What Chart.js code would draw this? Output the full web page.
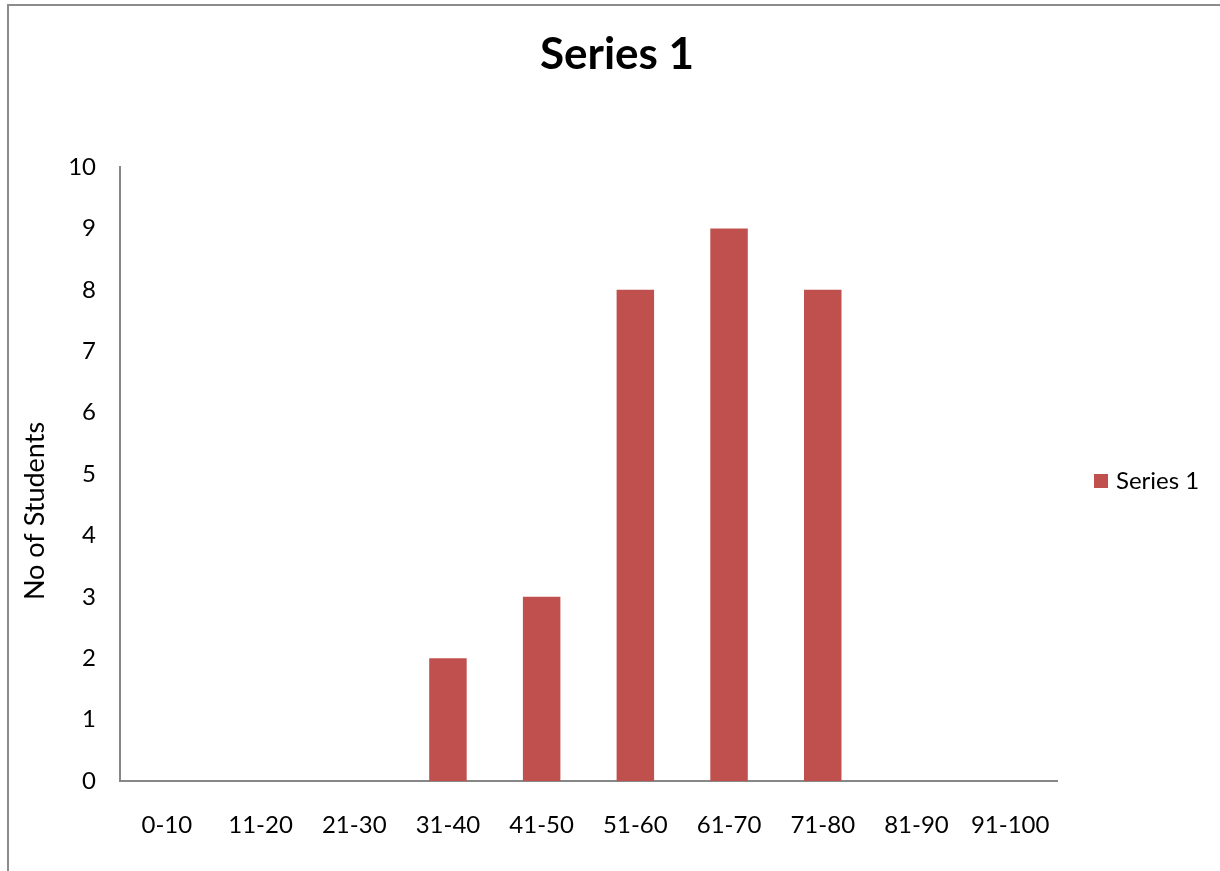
<!DOCTYPE html>
<html>
<head>
<meta charset="utf-8">
<script src="https://cdn.jsdelivr.net/npm/chart.js@4"></script>
<style>
  html, body { margin: 0; padding: 0; background: #ffffff; }
  #wrap { width: 1220px; height: 871px; position: relative; }
</style>
</head>
<body>
<div id="wrap"><canvas id="chart" width="1220" height="871"></canvas></div>
<script>
// Score bands and number of students in each band
const categories = ['0-10', '11-20', '21-30', '31-40', '41-50', '51-60', '61-70', '71-80', '81-90', '91-100'];
const studentCounts = [0, 0, 0, 2, 3, 8, 9, 8, 0, 0];
const seriesName = 'Series 1';
const chartTitle = 'Series 1';
const yAxisTitle = 'No of Students';
const yMin = 0;
const yMax = 10;
const yStep = 1;

const FONT = 'Lato, "Open Sans", sans-serif';
const BAR_COLOR = '#C0504D';
const AXIS_COLOR = '#878787';

// Frame, title, axis title and legend drawn around the plot
const decorations = {
  id: 'decorations',
  beforeDraw(chart) {
    const ctx = chart.ctx;
    ctx.save();
    ctx.fillStyle = '#ffffff';
    ctx.fillRect(0, 0, chart.width, chart.height);
    ctx.strokeStyle = '#8c8c8c';
    ctx.lineWidth = 2;
    ctx.beginPath();
    ctx.moveTo(8, chart.height);
    ctx.lineTo(8, 5);
    ctx.lineTo(chart.width, 5);
    ctx.stroke();
    ctx.restore();
  },
  afterDraw(chart) {
    const ctx = chart.ctx;
    ctx.save();
    ctx.fillStyle = '#000000';
    // title
    ctx.font = 'bold 44px ' + FONT;
    ctx.textAlign = 'center';
    ctx.textBaseline = 'middle';
    ctx.fillText(chartTitle, 617, 55);
    // y axis title
    ctx.save();
    ctx.translate(35, 511);
    ctx.rotate(-Math.PI / 2);
    ctx.font = '27px ' + FONT;
    ctx.fillText(yAxisTitle, 0, 0);
    ctx.restore();
    // legend
    const ds = chart.data.datasets[0];
    ctx.fillStyle = ds.backgroundColor;
    ctx.fillRect(1094, 474, 14, 14);
    ctx.fillStyle = '#000000';
    ctx.font = '24px ' + FONT;
    ctx.textAlign = 'left';
    ctx.fillText(ds.label, 1116, 481);
    ctx.restore();
  }
};

new Chart(document.getElementById('chart'), {
  type: 'bar',
  data: {
    labels: categories,
    datasets: [{
      label: seriesName,
      data: studentCounts,
      backgroundColor: BAR_COLOR,
      borderWidth: 0,
      categoryPercentage: 1.0,
      barPercentage: 0.4
    }]
  },
  options: {
    responsive: false,
    animation: false,
    events: [],
    layout: { padding: { top: 167, right: 163, bottom: 0, left: 0 } },
    plugins: {
      legend: { display: false },
      title: { display: false },
      tooltip: { enabled: false }
    },
    scales: {
      x: {
        grid: { display: false, drawTicks: false },
        border: { display: true, color: AXIS_COLOR, width: 2 },
        ticks: {
          color: '#000000',
          font: { family: FONT, size: 24 },
          padding: 30,
          maxRotation: 0,
          autoSkip: false
        },
        afterFit(scale) { scale.height = 90; }
      },
      y: {
        min: yMin,
        max: yMax,
        grid: { display: false, drawTicks: false },
        border: { display: true, color: AXIS_COLOR, width: 2 },
        ticks: {
          stepSize: yStep,
          color: '#000000',
          font: { family: FONT, size: 24 },
          padding: 24
        },
        afterFit(scale) { scale.width = 120; }
      }
    }
  },
  plugins: [decorations]
});
</script>
</body>
</html>
